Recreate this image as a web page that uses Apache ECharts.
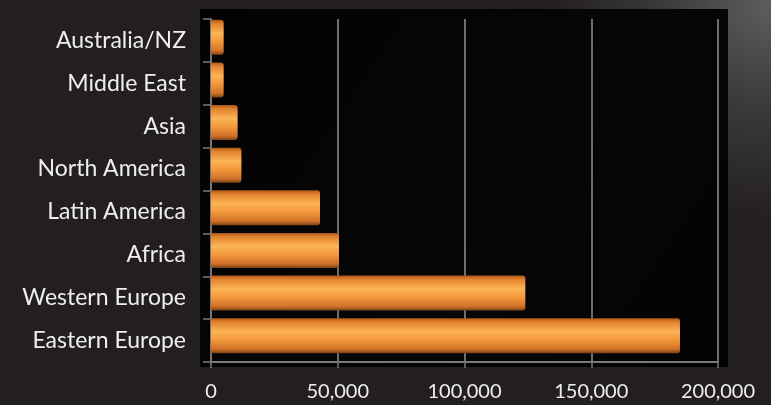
<!DOCTYPE html>
<html>
<head>
<meta charset="utf-8">
<script src="https://cdn.jsdelivr.net/npm/echarts@6/dist/echarts.min.js"></script>
<style>html,body{margin:0;padding:0;background:#231f20;}#c{width:771px;height:405px;}</style>
</head>
<body>
<div id="c"></div>
<script>
const categories = ["Australia/NZ","Middle East","Asia","North America","Latin America","Africa","Western Europe","Eastern Europe"];
const values = [5000, 5000, 10500, 12000, 43000, 50500, 124000, 185000];
const xTicks = [0, 50000, 100000, 150000, 200000];

const chart = echarts.init(document.getElementById('c'));
const barGrad = new echarts.graphic.LinearGradient(0,0,0,1,[
  {offset:0, color:'#a8561a'},
  {offset:0.1, color:'#e0802c'},
  {offset:0.38, color:'#fcb455'},
  {offset:0.6, color:'#f49b3c'},
  {offset:0.88, color:'#d2722a'},
  {offset:1, color:'#7a4216'}
]);
const fontFam = 'Lato, "Open Sans", sans-serif';
chart.setOption({
  backgroundColor: new echarts.graphic.RadialGradient(1, 0, 0.55, [
    {offset:0, color:'#5e5e60'},
    {offset:0.5, color:'#3a3839'},
    {offset:1, color:'#231f20'}
  ]),
  animation: false,
  graphic: [{
    type:'rect', z:-1,
    shape:{x:200, y:9, width:528, height:358},
    style:{fill: new echarts.graphic.LinearGradient(0,0,1,1,[
      {offset:0, color:'#030303'},{offset:0.6, color:'#060606'},{offset:1, color:'#030303'}])}
  }],
  grid: [
    {left:211, right:53, top:19, bottom:43},
    {left:211, right:53, top:16, bottom:48}
  ],
  xAxis: [
    {type:'value', gridIndex:0, min:0, max:200000, interval:50000,
     axisLine:{show:true, lineStyle:{color:'#7a7a7a', width:2}},
     axisTick:{show:true, length:6, lineStyle:{color:'#7a7a7a', width:1.5}},
     splitLine:{show:true, lineStyle:{color:'#6e6e6e', width:2}},
     axisLabel:{color:'#eeeeee', fontSize:20, fontFamily:fontFam, margin:20,
       formatter: v => xTicks.includes(v) ? v.toLocaleString('en-US') : ''}},
    {type:'value', gridIndex:1, min:0, max:200000, show:false}
  ],
  yAxis: [
    {type:'category', gridIndex:0, data:categories, inverse:true,
     axisLine:{show:true, lineStyle:{color:'#7a7a7a', width:1.5}},
     axisTick:{show:true, length:8, lineStyle:{color:'#7a7a7a', width:1.5}},
     axisLabel:{color:'#eeeeee', fontSize:23, fontFamily:fontFam, margin:25}},
    {type:'category', gridIndex:1, data:categories, inverse:true, show:false}
  ],
  series: [{
    type:'bar', xAxisIndex:1, yAxisIndex:1, data:values,
    barCategoryGap:'18%',
    itemStyle:{color:barGrad, borderRadius:[0,3,3,0]}
  }]
});
</script>
</body>
</html>
